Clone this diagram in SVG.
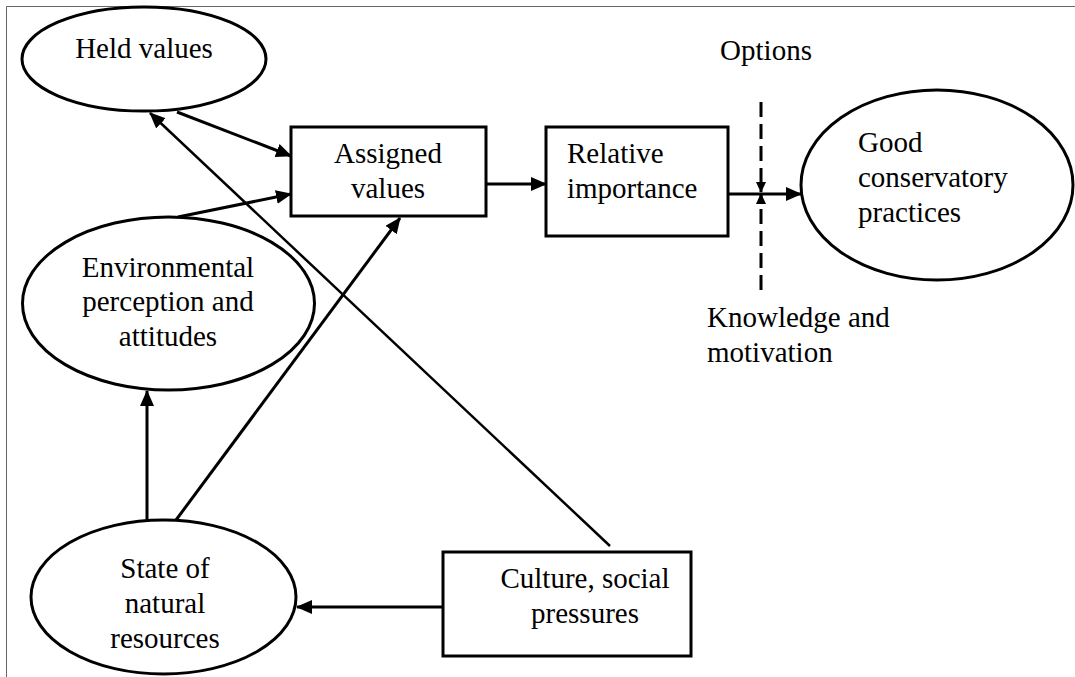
<svg xmlns="http://www.w3.org/2000/svg" width="1075" height="677" viewBox="0 0 1075 677" font-family="Liberation Serif, Times New Roman, serif" font-size="29">
  <style>
    .frame { stroke: #666; stroke-width: 1; fill: none; }
    .node { fill: #fff; stroke: #000; stroke-width: 3; }
    .mid { text-anchor: middle; }
    .edge { stroke: #000; stroke-width: 3; fill: none; }
    .thin { stroke-width: 2.5; }
    .dash { stroke: #000; stroke-width: 3; fill: none; stroke-dasharray: 15 7; }
  </style>
  <defs>
    <marker id="arrow" markerUnits="userSpaceOnUse" markerWidth="16" markerHeight="14" refX="15" refY="7" orient="auto">
      <path d="M0,0 L16,7 L0,14 Z" fill="#000"/>
    </marker>
    <marker id="tick" markerUnits="userSpaceOnUse" markerWidth="11" markerHeight="10" refX="10" refY="5" orient="auto">
      <path d="M0,0 L11,5 L0,10 Z" fill="#000"/>
    </marker>
  </defs>

  <!-- outer frame -->
  <path class="frame" d="M6.5,677 V6.5 H1075"/>

  <!-- connectors -->
  <g id="connectors">
    <line class="edge" x1="177" y1="112" x2="291" y2="156" marker-end="url(#arrow)"/>
    <line class="edge" x1="178" y1="217" x2="291" y2="194" marker-end="url(#arrow)"/>
    <line class="edge thin" x1="610" y1="546" x2="150" y2="113" marker-end="url(#arrow)"/>
    <line class="edge" x1="176" y1="520" x2="400" y2="218" marker-end="url(#arrow)"/>
    <line class="edge" x1="147" y1="520" x2="147" y2="391" marker-end="url(#arrow)"/>
    <line class="edge" x1="443" y1="607" x2="297" y2="607" marker-end="url(#arrow)"/>
    <line class="edge" x1="486" y1="184" x2="546" y2="184" marker-end="url(#arrow)"/>
    <line class="edge" x1="728" y1="194" x2="801" y2="194" marker-end="url(#arrow)"/>
    <!-- options / knowledge barrier -->
    <line class="dash" x1="761" y1="102" x2="761" y2="192" marker-end="url(#tick)"/>
    <line class="dash" x1="761" y1="290" x2="761" y2="194" marker-end="url(#tick)"/>
  </g>

  <g id="held-values">
    <ellipse class="node" cx="144" cy="59" rx="122" ry="52"/>
    <text class="mid" x="144" y="58">Held values</text>
  </g>

  <g id="assigned-values">
    <rect class="node" x="291" y="127" width="195" height="89"/>
    <text class="mid" x="388" y="163">Assigned</text>
    <text class="mid" x="388" y="198">values</text>
  </g>

  <g id="relative-importance">
    <rect class="node" x="546" y="127" width="182" height="109"/>
    <text x="567" y="163">Relative</text>
    <text x="567" y="198">importance</text>
  </g>

  <g id="good-practices">
    <ellipse class="node" cx="937" cy="185" rx="136" ry="95"/>
    <text x="858" y="152">Good</text>
    <text x="858" y="187">conservatory</text>
    <text x="858" y="222">practices</text>
  </g>

  <g id="options-label">
    <text class="mid" x="766" y="60">Options</text>
  </g>

  <g id="knowledge-label">
    <text x="707" y="327">Knowledge and</text>
    <text x="707" y="362">motivation</text>
  </g>

  <g id="environmental-perception">
    <ellipse class="node" cx="168.5" cy="303.5" rx="146" ry="86.5"/>
    <text class="mid" x="168" y="277">Environmental</text>
    <text class="mid" x="168" y="311">perception and</text>
    <text class="mid" x="168" y="346">attitudes</text>
  </g>

  <g id="natural-resources">
    <ellipse class="node" cx="163.5" cy="597" rx="132.5" ry="77"/>
    <text class="mid" x="165" y="578">State of</text>
    <text class="mid" x="165" y="613">natural</text>
    <text class="mid" x="165" y="648">resources</text>
  </g>

  <g id="culture-social">
    <rect class="node" x="443" y="552" width="248" height="104"/>
    <text class="mid" x="585" y="588">Culture, social</text>
    <text class="mid" x="585" y="623">pressures</text>
  </g>
</svg>
